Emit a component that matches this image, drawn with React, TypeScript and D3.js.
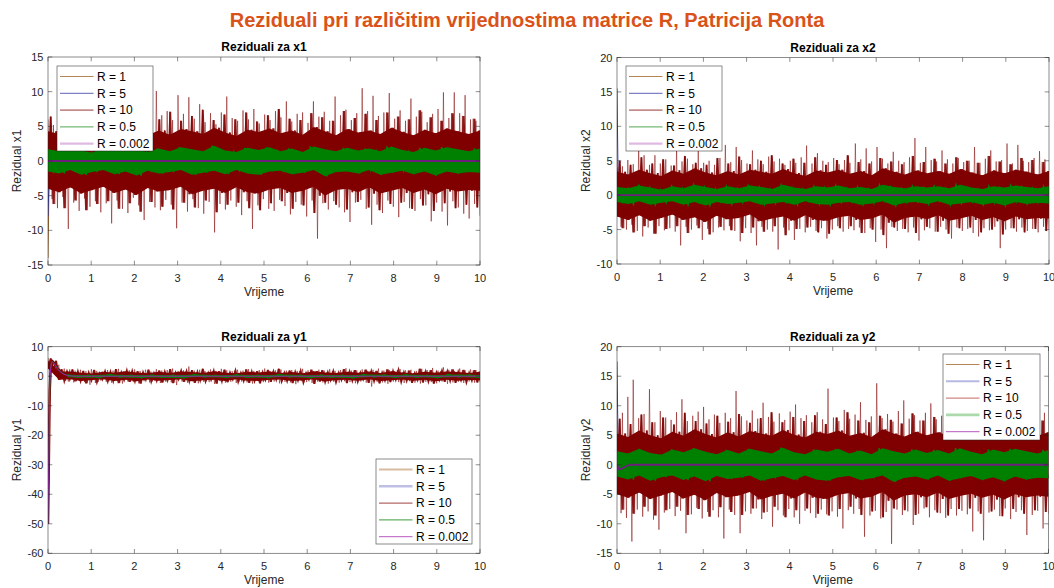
import React from "react";
import * as d3 from "d3";

// ---------------- data ----------------
const MAIN_TITLE = "Reziduali pri različitim vrijednostima matrice R, Patricija Ronta";
const SERIES_NAMES = ["R = 1", "R = 5", "R = 10", "R = 0.5", "R = 0.002"];
const X_TICKS = [0, 1, 2, 3, 4, 5, 6, 7, 8, 9, 10];
const TIME_END = 10;

const x1Ticks = [-15, -10, -5, 0, 5, 10, 15];
const x2Ticks = [-10, -5, 0, 5, 10, 15, 20];
const y1Ticks = [-60, -50, -40, -30, -20, -10, 0, 10];
const y2Ticks = [-15, -10, -5, 0, 5, 10, 15, 20];

// R = 10 spike tips (upper / lower) in 80 equal time bins
const x1R10Hi = [6.0, 5.2, 7.9, 5.5, 6.5, 4.8, 5.6, 6.0, 5.1, 6.3, 5.4, 4.9, 6.8, 5.7, 6.2, 5.0, 7.1, 6.4, 5.5, 7.4, 10.1, 6.6, 7.2, 5.9, 9.5, 6.8, 9.2, 6.1, 8.2, 5.6, 6.9, 5.3, 7.0, 9.3, 6.2, 5.8, 7.3, 6.0, 7.5, 5.4, 6.7, 5.9, 7.2, 6.3, 8.6, 5.7, 6.8, 7.0, 5.5, 8.6, 6.4, 7.1, 5.8, 9.3, 6.6, 7.4, 5.9, 6.9, 10.5, 7.2, 9.4, 6.5, 7.0, 9.8, 6.1, 7.3, 5.8, 9.0, 6.4, 7.1, 5.6, 6.8, 7.5, 9.9, 6.2, 9.9, 6.9, 9.5, 6.0, 5.8];
const x1R10Lo = [-5.5, -6.8, -5.2, -9.8, -6.0, -7.2, -5.4, -6.6, -5.8, -7.4, -6.1, -9.0, -5.7, -6.9, -7.5, -5.3, -6.4, -8.5, -5.9, -6.7, -7.1, -5.6, -6.3, -9.7, -6.0, -7.3, -5.5, -6.8, -7.6, -5.9, -10.3, -6.2, -7.0, -5.7, -6.6, -7.8, -5.8, -9.8, -6.4, -5.5, -6.9, -7.2, -5.6, -6.5, -7.7, -5.9, -6.3, -8.0, -5.7, -11.2, -6.1, -7.0, -5.8, -6.7, -7.4, -8.8, -6.0, -5.6, -6.9, -9.2, -6.3, -7.5, -5.7, -6.6, -8.1, -5.9, -6.8, -7.2, -5.5, -6.4, -8.7, -6.0, -7.3, -9.3, -5.8, -6.7, -7.6, -8.3, -6.2, -7.9];
const x2R10Hi = [4.8, 4.2, 5.1, 4.5, 6.5, 5.8, 4.4, 5.8, 4.6, 5.2, 4.3, 6.8, 4.9, 5.3, 4.5, 6.5, 4.7, 5.0, 4.4, 5.4, 7.3, 4.8, 7.0, 5.1, 4.6, 6.5, 5.2, 4.5, 5.6, 4.9, 5.3, 4.4, 5.0, 4.7, 5.5, 7.2, 4.6, 6.1, 5.0, 4.8, 5.4, 4.5, 5.1, 4.7, 7.5, 5.2, 6.8, 4.9, 7.0, 5.3, 4.6, 6.3, 5.0, 4.8, 5.5, 8.3, 4.7, 7.0, 5.1, 4.9, 6.5, 5.2, 4.6, 5.4, 4.8, 5.0, 7.0, 4.7, 5.3, 6.5, 4.9, 5.1, 7.5, 4.6, 7.3, 5.0, 4.8, 5.4, 6.4, 5.2];
const x2R10Lo = [-4.6, -5.0, -4.3, -5.2, -6.0, -4.7, -5.6, -4.5, -5.1, -4.8, -5.3, -7.3, -4.6, -5.0, -4.4, -6.5, -4.9, -5.4, -4.7, -5.1, -4.5, -5.2, -6.7, -4.8, -5.5, -7.3, -4.6, -5.0, -5.3, -7.9, -4.7, -5.1, -6.5, -4.9, -5.4, -4.6, -5.2, -4.8, -6.3, -5.0, -4.5, -5.3, -4.9, -5.1, -4.7, -5.5, -4.8, -6.8, -5.0, -7.7, -4.6, -5.2, -4.9, -5.4, -4.7, -6.6, -5.1, -4.8, -5.3, -4.6, -5.0, -6.3, -4.7, -5.2, -4.9, -5.5, -6.0, -4.8, -5.1, -4.6, -7.7, -5.0, -4.8, -5.3, -4.7, -5.2, -4.9, -5.4, -4.6, -5.0];
const y1R10Hi = [6.3, 5.2, 3.9, 2.6, 2.3, 1.9, 2.2, 1.7, 2.4, 1.8, 1.6, 2.1, 1.9, 2.5, 1.7, 2.0, 2.3, 1.8, 2.2, 1.6, 2.4, 1.9, 2.1, 2.6, 1.8, 2.0, 3.3, 1.9, 2.2, 1.7, 2.3, 1.8, 2.5, 2.0, 1.7, 2.2, 1.9, 2.4, 1.8, 2.1, 2.6, 1.7, 2.0, 2.3, 1.9, 2.1, 1.8, 2.5, 2.0, 1.7, 2.2, 1.9, 2.4, 1.8, 2.1, 2.7, 1.9, 2.0, 2.3, 1.8, 2.2, 2.6, 1.9, 2.1, 1.7, 2.4, 2.0, 2.2, 1.8, 2.5, 2.1, 2.8, 1.9, 3.0, 2.2, 1.8, 2.6, 2.0, 2.3, 2.1];
const y1R10Lo = [2.9, 2.2, 0.5, -1.8, -2.1, -1.6, -2.0, -2.9, -2.3, -1.5, -1.9, -2.2, -1.6, -2.5, -1.8, -2.0, -2.4, -1.7, -2.1, -1.6, -2.3, -1.9, -2.1, -3.0, -1.8, -2.2, -1.7, -2.4, -1.9, -2.0, -2.6, -1.7, -2.2, -1.9, -2.3, -1.8, -2.1, -2.5, -1.6, -2.0, -2.2, -1.8, -2.4, -1.9, -2.1, -2.7, -1.7, -2.0, -2.3, -1.8, -2.1, -2.5, -1.9, -2.2, -1.7, -2.0, -2.4, -1.8, -2.2, -3.5, -1.9, -2.1, -2.6, -1.8, -2.0, -2.3, -1.7, -2.2, -2.5, -1.9, -2.0, -2.4, -1.8, -2.6, -2.1, -1.9, -2.3, -1.8, -2.2, -2.0];
const y2R10Hi = [7.5, 8.8, 11.5, 14.4, 7.9, 8.6, 12.8, 7.2, 9.1, 8.0, 7.6, 8.9, 11.1, 7.4, 8.3, 9.0, 9.8, 7.7, 8.5, 7.1, 8.8, 7.9, 12.5, 8.2, 7.5, 9.2, 7.8, 10.5, 8.1, 7.3, 8.7, 7.6, 9.0, 10.2, 7.9, 8.4, 7.2, 8.9, 7.7, 12.9, 8.0, 7.4, 9.3, 7.8, 8.5, 10.6, 7.6, 8.2, 13.8, 7.9, 8.6, 7.3, 9.1, 10.9, 7.8, 8.4, 7.5, 8.8, 10.4, 7.7, 8.3, 7.2, 9.0, 11.0, 7.9, 8.5, 10.0, 7.6, 8.7, 10.3, 7.4, 10.9, 8.1, 7.8, 9.2, 7.5, 8.4, 9.5, 7.9, 8.8];
const y2R10Lo = [-8.2, -9.0, -13.0, -7.6, -8.8, -7.9, -9.3, -11.0, -8.1, -7.5, -8.7, -7.8, -11.6, -8.4, -7.3, -9.1, -8.0, -7.7, -8.9, -12.5, -7.6, -8.5, -11.6, -7.9, -8.3, -7.4, -9.2, -8.0, -10.5, -7.7, -8.6, -7.5, -8.9, -10.0, -7.8, -8.2, -9.0, -7.6, -8.4, -7.9, -8.8, -10.8, -7.7, -8.3, -7.5, -12.2, -8.6, -7.8, -9.1, -8.0, -13.4, -7.6, -8.5, -7.9, -10.2, -8.3, -7.4, -8.9, -7.7, -8.2, -9.0, -7.5, -8.6, -7.8, -8.4, -11.3, -7.9, -12.8, -8.1, -7.6, -8.7, -7.4, -9.2, -8.0, -7.7, -11.9, -8.5, -7.8, -10.8, -8.3];

// R = 10 dense core excursions (40 equal steps)
const x1R10CoreHi = [4.3, 3.9, 4.7, 4.1, 3.6, 4.5, 4.0, 4.9, 4.2, 3.7, 4.4, 3.8, 4.6, 4.3, 3.9, 4.8, 4.1, 3.6, 4.5, 4.2, 4.7, 4.0, 4.4, 3.8, 4.9, 4.3, 3.7, 4.6, 4.1, 4.4, 3.9, 4.8, 4.2, 3.7, 4.5, 4.0, 4.7, 4.3, 3.9, 4.4];
const x1R10CoreLo = [-4.0, -4.5, -3.8, -4.7, -4.2, -3.7, -4.6, -4.1, -4.9, -3.9, -4.4, -4.2, -3.7, -4.8, -4.3, -4.0, -4.6, -3.8, -4.5, -4.7, -4.1, -3.9, -4.6, -4.3, -3.7, -5.0, -4.2, -4.0, -4.5, -3.8, -4.7, -4.3, -3.9, -4.6, -4.1, -4.8, -4.0, -4.4, -4.2, -4.3];
const x2R10CoreHi = [3.4, 3.0, 3.7, 3.2, 2.8, 3.6, 3.1, 3.9, 3.3, 2.9, 3.5, 3.0, 3.7, 3.4, 3.1, 3.8, 3.2, 2.8, 3.6, 3.3, 3.7, 3.1, 3.5, 2.9, 3.9, 3.4, 3.0, 3.6, 3.2, 3.5, 3.1, 3.8, 3.3, 2.9, 3.6, 3.2, 3.7, 3.4, 3.0, 3.5];
const x2R10CoreLo = [-3.1, -3.6, -2.9, -3.7, -3.3, -2.8, -3.6, -3.2, -3.9, -3.0, -3.5, -3.3, -2.8, -3.8, -3.4, -3.1, -3.7, -2.9, -3.6, -3.7, -3.2, -3.0, -3.6, -3.4, -2.8, -4.0, -3.3, -3.1, -3.5, -2.9, -3.7, -3.4, -3.0, -3.6, -3.2, -3.8, -3.1, -3.5, -3.3, -3.4];
const y1R10CoreHi = [5.2, 1.6, 1.6, 1.2, 0.9, 1.5, 1.2, 1.7, 1.3, 1.0, 1.5, 1.1, 1.6, 1.4, 1.1, 1.7, 1.2, 1.0, 1.5, 1.3, 1.6, 1.1, 1.4, 1.0, 1.7, 1.3, 1.1, 1.5, 1.2, 1.6, 1.1, 1.7, 1.3, 1.0, 1.5, 1.2, 1.6, 1.4, 1.1, 1.5];
const y1R10CoreLo = [2.6, -1.2, -1.0, -1.6, -1.3, -1.0, -1.6, -1.2, -1.7, -1.1, -1.5, -1.3, -1.0, -1.7, -1.4, -1.2, -1.6, -1.0, -1.5, -1.6, -1.2, -1.1, -1.6, -1.4, -1.0, -1.8, -1.3, -1.2, -1.5, -1.0, -1.6, -1.4, -1.1, -1.5, -1.2, -1.7, -1.2, -1.5, -1.3, -1.4];
const y2R10CoreHi = [5.3, 4.7, 5.8, 5.0, 4.5, 5.6, 4.9, 6.0, 5.2, 4.6, 5.5, 4.8, 5.7, 5.3, 4.9, 5.9, 5.1, 4.6, 5.6, 5.2, 5.8, 4.9, 5.4, 4.7, 6.0, 5.3, 4.8, 5.6, 5.0, 5.5, 4.9, 5.9, 5.2, 4.7, 5.6, 5.0, 5.8, 5.3, 4.9, 5.5];
const y2R10CoreLo = [-5.0, -5.6, -4.7, -5.8, -5.2, -4.6, -5.7, -5.1, -6.0, -4.8, -5.5, -5.2, -4.6, -5.9, -5.3, -4.9, -5.7, -4.7, -5.6, -5.8, -5.1, -4.8, -5.7, -5.4, -4.6, -6.1, -5.2, -5.0, -5.5, -4.7, -5.8, -5.3, -4.9, -5.6, -5.1, -5.9, -5.0, -5.5, -5.2, -5.4];

// R = 10 typical excursions (40 equal steps)
const x1R10MidHi = [6.4, 5.6, 7.0, 5.9, 6.6, 5.5, 7.3, 6.1, 5.7, 6.8, 6.0, 7.1, 5.8, 6.5, 7.4, 5.9, 6.7, 6.0, 7.0, 5.7, 6.6, 7.5, 6.1, 5.9, 6.9, 6.3, 5.8, 7.2, 6.2, 6.8, 5.9, 7.0, 6.4, 6.0, 7.3, 6.3, 5.8, 6.9, 6.5, 6.1];
const x1R10MidLo = [-6.2, -6.8, -5.7, -7.1, -6.2, -5.8, -6.9, -6.1, -7.3, -5.9, -6.6, -7.0, -6.0, -6.7, -5.7, -7.4, -6.3, -6.0, -6.8, -7.1, -6.1, -5.8, -6.9, -6.4, -7.5, -6.0, -6.3, -7.0, -5.9, -6.7, -7.1, -6.2, -6.0, -6.9, -6.4, -7.2, -6.1, -6.8, -6.3, -6.7];
const x2R10MidHi = [5.0, 4.4, 5.5, 4.6, 5.2, 4.3, 5.7, 4.7, 4.4, 5.4, 4.6, 5.6, 4.5, 5.0, 5.8, 4.6, 5.3, 4.7, 5.5, 4.4, 5.1, 5.8, 4.8, 4.6, 5.4, 4.9, 4.5, 5.7, 4.8, 5.3, 4.6, 5.5, 5.0, 4.7, 5.7, 4.9, 4.5, 5.4, 5.1, 4.8];
const x2R10MidLo = [-4.8, -5.4, -4.5, -5.6, -4.9, -4.5, -5.5, -4.8, -5.7, -4.6, -5.1, -5.5, -4.7, -5.3, -4.5, -5.8, -4.9, -4.7, -5.4, -5.6, -4.8, -4.5, -5.5, -5.0, -5.8, -4.7, -4.9, -5.5, -4.6, -5.3, -5.6, -4.8, -4.7, -5.4, -5.0, -5.7, -4.8, -5.4, -4.9, -5.2];
const y1R10MidHi = [6.0, 2.4, 2.3, 1.8, 2.1, 1.6, 2.4, 1.9, 1.7, 2.2, 1.9, 2.4, 1.8, 2.0, 2.5, 1.8, 2.2, 1.9, 2.3, 1.7, 2.1, 2.5, 1.9, 1.8, 2.2, 2.0, 1.7, 2.4, 2.0, 2.2, 1.8, 2.3, 2.1, 1.9, 2.5, 2.0, 1.8, 2.3, 2.1, 2.0];
const y1R10MidLo = [1.8, -1.6, -1.7, -2.4, -2.0, -1.7, -2.3, -1.9, -2.5, -1.8, -2.1, -2.3, -1.9, -2.2, -1.7, -2.5, -2.0, -1.9, -2.2, -2.4, -1.9, -1.7, -2.3, -2.1, -2.6, -1.9, -2.0, -2.3, -1.8, -2.2, -2.4, -2.0, -1.9, -2.2, -2.1, -2.5, -1.9, -2.2, -2.0, -2.1];
const y2R10MidHi = [7.8, 6.9, 8.5, 7.2, 8.0, 6.8, 8.8, 7.4, 7.0, 8.3, 7.3, 8.6, 7.1, 7.9, 8.9, 7.2, 8.1, 7.4, 8.4, 6.9, 8.0, 8.9, 7.5, 7.2, 8.3, 7.6, 7.0, 8.7, 7.5, 8.1, 7.2, 8.5, 7.8, 7.3, 8.7, 7.6, 7.0, 8.4, 7.9, 7.5];
const y2R10MidLo = [-7.6, -8.3, -7.1, -8.6, -7.7, -7.1, -8.5, -7.5, -8.8, -7.2, -8.0, -8.5, -7.4, -8.1, -7.1, -8.9, -7.7, -7.4, -8.3, -8.6, -7.5, -7.1, -8.5, -7.9, -8.9, -7.4, -7.7, -8.5, -7.2, -8.1, -8.6, -7.5, -7.4, -8.3, -7.9, -8.7, -7.5, -8.3, -7.7, -8.0];

// R = 0.5 band edges
const x1R05Hi = [1.7, 1.4, 2.0, 1.5, 1.2, 1.9, 1.5, 2.1, 1.6, 1.3, 1.8, 1.4, 2.0, 1.7, 1.4, 2.2, 1.5, 1.3, 1.9, 1.6, 2.0, 1.4, 1.8, 1.3, 2.1, 1.7, 1.4, 1.9, 1.5, 1.8, 1.4, 2.1, 1.6, 1.3, 1.9, 1.5, 2.0, 1.7, 1.4, 1.8];
const x1R05Lo = [-1.5, -1.8, -1.3, -2.0, -1.6, -1.3, -1.9, -1.5, -2.1, -1.4, -1.8, -1.6, -1.3, -2.0, -1.7, -1.4, -1.9, -1.3, -1.8, -2.0, -1.5, -1.4, -1.9, -1.7, -1.3, -2.2, -1.6, -1.5, -1.8, -1.3, -2.0, -1.7, -1.4, -1.9, -1.5, -2.1, -1.5, -1.8, -1.6, -1.7];
const x2R05Hi = [1.2, 1.0, 1.4, 1.1, 0.8, 1.3, 1.0, 1.5, 1.2, 0.9, 1.3, 1.0, 1.4, 1.2, 0.9, 1.5, 1.1, 0.9, 1.3, 1.1, 1.4, 1.0, 1.2, 0.9, 1.5, 1.2, 1.0, 1.3, 1.1, 1.3, 1.0, 1.5, 1.1, 0.9, 1.3, 1.1, 1.4, 1.2, 1.0, 1.3];
const x2R05Lo = [-1.0, -1.3, -0.9, -1.4, -1.1, -0.9, -1.4, -1.0, -1.5, -1.0, -1.3, -1.1, -0.9, -1.4, -1.2, -1.0, -1.4, -0.9, -1.3, -1.4, -1.1, -1.0, -1.4, -1.2, -0.9, -1.5, -1.1, -1.0, -1.3, -0.9, -1.4, -1.2, -1.0, -1.4, -1.1, -1.5, -1.0, -1.3, -1.1, -1.2];
const y1R05Hi = [0.5, 0.3, 0.6, 0.35, 0.45, 0.3, 0.55, 0.35, 0.5, 0.3, 0.6, 0.35, 0.45, 0.3, 0.55, 0.4, 0.5, 0.3, 0.6, 0.4];
const y1R05Lo = [-0.35, -0.55, -0.3, -0.5, -0.4, -0.6, -0.3, -0.45, -0.35, -0.55, -0.3, -0.5, -0.4, -0.6, -0.3, -0.45, -0.35, -0.55, -0.3, -0.5];
const y2R05Hi = [2.3, 1.9, 2.7, 2.0, 1.7, 2.6, 2.1, 2.8, 2.2, 1.8, 2.5, 1.9, 2.7, 2.3, 1.9, 2.9, 2.1, 1.8, 2.6, 2.2, 2.7, 1.9, 2.4, 1.8, 2.8, 2.3, 1.9, 2.6, 2.0, 2.5, 1.9, 2.8, 2.2, 1.8, 2.6, 2.1, 2.7, 2.3, 1.9, 2.5];
const y2R05Lo = [-2.0, -2.5, -1.8, -2.7, -2.1, -1.8, -2.6, -2.0, -2.8, -1.9, -2.4, -2.2, -1.8, -2.7, -2.3, -1.9, -2.6, -1.8, -2.5, -2.7, -2.1, -1.9, -2.6, -2.3, -1.8, -2.9, -2.2, -2.0, -2.5, -1.8, -2.7, -2.3, -1.9, -2.6, -2.1, -2.8, -2.0, -2.5, -2.2, -2.3];

// start transients
const startT = [0, 0.02, 0.04];
const x1R1Start = [-14, -5, 0];
const x1R5Start = [-8, -3, 0];
const x2R5Start = [15.5, 5, 0];
const x2R05Start = [4, 1.5, 0];
const y2R5Start = [17.5, 6, 0];
const y2R05Start = [5, 2, 0];

const y1TransT = [0, 0.01, 0.02, 0.03, 0.04, 0.06, 0.08, 0.1, 0.13, 0.17, 0.22, 0.28, 0.35, 0.45, 0.6, 10];
const y1TransR10 = [-50, -40, -28, -15, -5, 2, 4.6, 5.1, 4.7, 3.8, 2.7, 1.7, 0.9, 0.3, 0, 0];
const y1TransR0002 = [-50, -38, -25, -12, -3, 2.5, 4.5, 4.9, 4.5, 3.6, 2.5, 1.5, 0.8, 0.2, 0, 0];

const zeroT = [0, 10];
const zeroV = [0, 0];
const y2R0002T = [0, 0.05, 0.1, 0.2, 0.3, 10];
const y2R0002V = [0, -0.8, -0.7, -0.3, 0, 0];

// ---------------- styles ----------------
const FONT = "'Liberation Sans', Arial, Helvetica, sans-serif";
const AX = "#262626";
const C_R1 = "#a0652a";
const C_R5 = "#3a3aa8";
const C_R10 = "#800000";
const C_R05 = "#008000";
const C_R0002 = "#6e1c7e";

const legendTop = [
  { c: "#a0652a", w: 1, o: 0.8 },
  { c: "#3a3aa8", w: 1, o: 0.8 },
  { c: "#800000", w: 1.6, o: 0.45 },
  { c: "#1a8a1a", w: 1, o: 0.75 },
  { c: "#b050b8", w: 2.2, o: 0.4 },
];
const legendY1 = [
  { c: "#b07a40", w: 2, o: 0.5 },
  { c: "#7070c8", w: 2.6, o: 0.45 },
  { c: "#800000", w: 1, o: 0.75 },
  { c: "#1a8a1a", w: 1, o: 0.85 },
  { c: "#a020a8", w: 1, o: 0.75 },
];
const legendY2 = [
  { c: "#a0652a", w: 1, o: 0.8 },
  { c: "#7070c8", w: 2, o: 0.5 },
  { c: "#a00000", w: 1, o: 0.6 },
  { c: "#30a030", w: 2.6, o: 0.4 },
  { c: "#a020a8", w: 1, o: 0.75 },
];

const panels = [
  {
    title: "Reziduali za x1", ylabel: "Rezidual x1",
    left: 48, right: 480, top: 57, bottom: 265,
    yDomain: [-15, 15], yTicks: x1Ticks,
    hi: x1R10Hi, lo: x1R10Lo, coreHi: x1R10CoreHi, coreLo: x1R10CoreLo, midHi: x1R10MidHi, midLo: x1R10MidLo,
    gHi: x1R05Hi, gLo: x1R05Lo, gStart: 0,
    starts: [{ v: x1R1Start, c: C_R1 }, { v: x1R5Start, c: C_R5 }],
    trans: null,
    purple: { t: zeroT, v: zeroV },
    legend: { x: 57, y: 66, w: 96, h: 85, styles: legendTop },
  },
  {
    title: "Reziduali za x2", ylabel: "Rezidual x2",
    left: 617, right: 1049, top: 57.5, bottom: 264,
    yDomain: [-10, 20], yTicks: x2Ticks,
    hi: x2R10Hi, lo: x2R10Lo, coreHi: x2R10CoreHi, coreLo: x2R10CoreLo, midHi: x2R10MidHi, midLo: x2R10MidLo,
    gHi: x2R05Hi, gLo: x2R05Lo, gStart: 0,
    starts: [{ v: x2R5Start, c: C_R5 }, { v: x2R05Start, c: C_R05 }],
    trans: null,
    purple: { t: zeroT, v: zeroV },
    legend: { x: 626, y: 66, w: 96, h: 85, styles: legendTop },
  },
  {
    title: "Reziduali za y1", ylabel: "Rezidual y1",
    left: 48, right: 480, top: 346.7, bottom: 553.3,
    yDomain: [-60, 10], yTicks: y1Ticks,
    hi: y1R10Hi, lo: y1R10Lo, coreHi: y1R10CoreHi, coreLo: y1R10CoreLo, midHi: y1R10MidHi, midLo: y1R10MidLo,
    gHi: y1R05Hi, gLo: y1R05Lo, gStart: 0.45,
    starts: [],
    trans: { t: y1TransT, r10: y1TransR10, r0002: y1TransR0002 },
    purple: null,
    legend: { x: 376, y: 459, w: 96, h: 85, styles: legendY1 },
  },
  {
    title: "Reziduali za y2", ylabel: "Rezidual y2",
    left: 617, right: 1048.5, top: 346.7, bottom: 553.3,
    yDomain: [-15, 20], yTicks: y2Ticks,
    hi: y2R10Hi, lo: y2R10Lo, coreHi: y2R10CoreHi, coreLo: y2R10CoreLo, midHi: y2R10MidHi, midLo: y2R10MidLo,
    gHi: y2R05Hi, gLo: y2R05Lo, gStart: 0,
    starts: [{ v: y2R5Start, c: C_R5 }, { v: y2R05Start, c: C_R05 }],
    trans: null,
    purple: { t: y2R0002T, v: y2R0002V },
    legend: { x: 943, y: 354, w: 97, h: 86, styles: legendY2 },
  },
];

// ---------------- helpers ----------------
function zigzag(hi: number[], lo: number[], t0: number): [number, number][] {
  const n = hi.length;
  const m = 2 * n - 1;
  const pts: [number, number][] = [];
  for (let i = 0; i < n; i++) {
    pts.push([t0 + ((2 * i) / m) * (TIME_END - t0), hi[i]]);
    pts.push([t0 + ((2 * i + 1) / m) * (TIME_END - t0), lo[i]]);
  }
  return pts;
}

// dense part of the R = 10 trace: core and typical excursions in time order
function r10Dense(p: any): [number, number][] {
  const vals: number[] = [];
  for (let c = 0; c < p.coreHi.length; c++) {
    vals.push(p.coreLo[c], p.midHi[c], p.midLo[c], p.coreHi[c]);
  }
  const m = vals.length - 1;
  return vals.map((v, j) => [(j / m) * TIME_END, v] as [number, number]);
}

// full R = 10 trace: spike tips, typical and core excursions in time order
function r10Trace(p: any): [number, number][] {
  const vals: number[] = [];
  for (let c = 0; c < p.coreHi.length; c++) {
    vals.push(p.hi[2 * c], p.coreLo[c], p.midHi[c], p.lo[2 * c]);
    vals.push(p.hi[2 * c + 1], p.midLo[c], p.coreHi[c], p.lo[2 * c + 1]);
  }
  const m = vals.length - 1;
  return vals.map((v, j) => [(j / m) * TIME_END, v] as [number, number]);
}

function band(hi: number[], lo: number[], t0: number) {
  const n = hi.length;
  return hi.map((h, i) => ({ t: t0 + (i / (n - 1)) * (TIME_END - t0), hi: h, lo: lo[i] }));
}

function pairs(t: number[], v: number[]): [number, number][] {
  return t.map((tt, i) => [tt, v[i]] as [number, number]);
}

function Panel({ p, idx }: { p: any; idx: number }) {
  const x = d3.scaleLinear().domain([0, TIME_END]).range([p.left, p.right]);
  const y = d3.scaleLinear().domain(p.yDomain).range([p.bottom, p.top]);
  const line = d3.line<[number, number]>().x((d) => x(d[0])).y((d) => y(d[1]));
  const area = d3
    .area<{ t: number; hi: number; lo: number }>()
    .x((d) => x(d.t))
    .y0((d) => y(d.lo))
    .y1((d) => y(d.hi));
  const clipId = `clip-${idx}`;
  const tickLen = 4.3;
  const cx = (p.left + p.right) / 2;
  const cy = (p.top + p.bottom) / 2;

  return (
    <g>
      <defs>
        <clipPath id={clipId}>
          <rect x={p.left} y={p.top} width={p.right - p.left} height={p.bottom - p.top} />
        </clipPath>
      </defs>
      <rect x={p.left} y={p.top} width={p.right - p.left} height={p.bottom - p.top} fill="#fff" />
      <g clipPath={`url(#${clipId})`}>
        {p.starts.map((s: any, i: number) => (
          <path key={i} d={line(pairs(startT, s.v)) || ""} fill="none" stroke={s.c} strokeWidth={1} />
        ))}
        {p.trans && (
          <>
            <path d={line(pairs(p.trans.t, p.trans.r10)) || ""} fill="none" stroke={C_R1} strokeWidth={1} />
            <path d={line(pairs(p.trans.t, p.trans.r10)) || ""} fill="none" stroke={C_R10} strokeWidth={2.5} />
          </>
        )}
        <path d={area(band(p.coreHi, p.coreLo, 0)) || ""} fill={C_R10} />
        <path
          d={line(r10Trace(p)) || ""}
          fill="none"
          stroke={C_R10}
          strokeWidth={1}
          strokeOpacity={0.5}
        />
        <path
          d={line(r10Dense(p)) || ""}
          fill="none"
          stroke={C_R10}
          strokeWidth={1.9}
          strokeOpacity={0.9}
        />
        <path d={area(band(p.gHi, p.gLo, p.gStart)) || ""} fill={C_R05} />
        <path
          d={line(zigzag(p.gHi, p.gLo, p.gStart)) || ""}
          fill="none"
          stroke={C_R05}
          strokeWidth={1.4}
        />
        {p.trans && (
          <>
            <path d={line(pairs(p.trans.t, p.trans.r10)) || ""} fill="none" stroke={C_R05} strokeWidth={1} />
            <path d={line(pairs(p.trans.t, p.trans.r0002)) || ""} fill="none" stroke="#a020b0" strokeWidth={1} />
          </>
        )}
        {p.purple && (
          <path d={line(pairs(p.purple.t, p.purple.v)) || ""} fill="none" stroke={C_R0002} strokeWidth={1.8} />
        )}
      </g>
      {/* frame */}
      <rect
        x={p.left}
        y={p.top}
        width={p.right - p.left}
        height={p.bottom - p.top}
        fill="none"
        stroke={AX}
        strokeOpacity={0.75}
        strokeWidth={0.7}
      />
      {/* x ticks */}
      {X_TICKS.map((t) => (
        <g key={`x${t}`}>
          <line x1={x(t)} x2={x(t)} y1={p.bottom} y2={p.bottom - tickLen} stroke={AX} strokeWidth={0.7} strokeOpacity={0.75} />
          <line x1={x(t)} x2={x(t)} y1={p.top} y2={p.top + tickLen} stroke={AX} strokeWidth={0.7} strokeOpacity={0.75} />
          <text x={x(t)} y={p.bottom + 16.5} textAnchor="middle" fontSize={11} fill={AX} fontFamily={FONT}>
            {t}
          </text>
        </g>
      ))}
      {/* y ticks */}
      {p.yTicks.map((t: number) => (
        <g key={`y${t}`}>
          <line x1={p.left} x2={p.left + tickLen} y1={y(t)} y2={y(t)} stroke={AX} strokeWidth={0.7} strokeOpacity={0.75} />
          <line x1={p.right} x2={p.right - tickLen} y1={y(t)} y2={y(t)} stroke={AX} strokeWidth={0.7} strokeOpacity={0.75} />
          <text x={p.left - 4.5} y={y(t) + 4} textAnchor="end" fontSize={11} fill={AX} fontFamily={FONT}>
            {t}
          </text>
        </g>
      ))}
      <text x={cx} y={p.top - 6} textAnchor="middle" fontSize={12} fontWeight="bold" fill="#000" fontFamily={FONT}>
        {p.title}
      </text>
      <text x={cx} y={p.bottom + 30.5} textAnchor="middle" fontSize={12} fill={AX} fontFamily={FONT}>
        Vrijeme
      </text>
      <text
        transform={`translate(${p.left - 27},${cy}) rotate(-90)`}
        textAnchor="middle"
        fontSize={12}
        fill={AX}
        fontFamily={FONT}
      >
        {p.ylabel}
      </text>
      {/* legend */}
      <g>
        <rect
          x={p.legend.x}
          y={p.legend.y}
          width={p.legend.w}
          height={p.legend.h}
          fill="#fff"
          stroke={AX}
          strokeOpacity={0.75}
          strokeWidth={0.7}
        />
        {SERIES_NAMES.map((name, i) => {
          const ry = p.legend.y + 10.5 + i * 16.8;
          const st = p.legend.styles[i];
          return (
            <g key={name}>
              <line
                x1={p.legend.x + 3}
                x2={p.legend.x + 36.5}
                y1={ry}
                y2={ry}
                stroke={st.c}
                strokeWidth={st.w}
                strokeOpacity={st.o}
              />
              <text x={p.legend.x + 40} y={ry + 4.3} fontSize={12} fill="#000" fontFamily={FONT}>
                {name}
              </text>
            </g>
          );
        })}
      </g>
    </g>
  );
}

export default function App() {
  return (
    <svg
      width={1054}
      height={588}
      viewBox="0 0 1054 588"
      style={{ position: "absolute", left: 0, top: 0, background: "#fff" }}
    >
      <rect x={0} y={0} width={1054} height={588} fill="#fff" />
      <text x={527} y={27.3} textAnchor="middle" fontSize={20} fontWeight="bold" fill="#D95319" fontFamily={FONT}>
        {MAIN_TITLE}
      </text>
      {panels.map((p, i) => (
        <Panel key={i} p={p} idx={i} />
      ))}
    </svg>
  );
}
